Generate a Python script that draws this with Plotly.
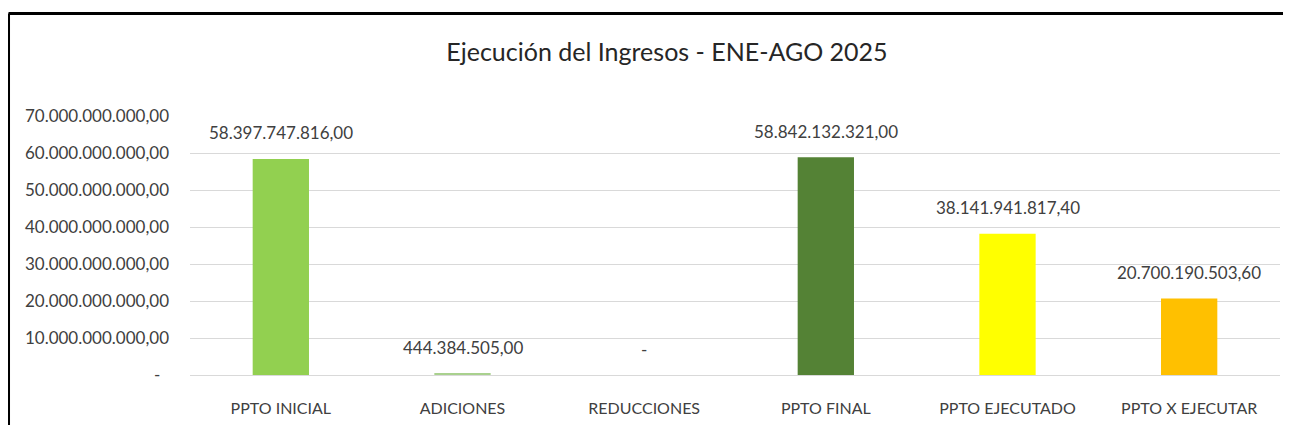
import plotly.graph_objects as go

categories = ["PPTO INICIAL", "ADICIONES", "REDUCCIONES", "PPTO FINAL", "PPTO EJECUTADO", "PPTO X EJECUTAR"]
values = [58397747816.00, 444384505.00, 0.0, 58842132321.00, 38141941817.40, 20700190503.60]
bar_colors = ["#92D050", "#A9D18E", "#A9D18E", "#548235", "#FFFF00", "#FFC000"]
tick_values = [0, 10e9, 20e9, 30e9, 40e9, 50e9, 60e9, 70e9]
tick_labels = ["-\u00a0\u00a0", "10.000.000.000,00", "20.000.000.000,00", "30.000.000.000,00",
               "40.000.000.000,00", "50.000.000.000,00", "60.000.000.000,00", "70.000.000.000,00"]
title_text = "Ejecución del Ingresos - ENE-AGO 2025"


def fmt_es(v):
    if v == 0:
        return "-"
    s = f"{v:,.2f}"
    return s.replace(",", "X").replace(".", ",").replace("X", ".")


FONT = "Lato, 'Open Sans', sans-serif"
TXT = "#404040"

W, H = 1275, 417  # page body has 8px margin on each side

fig = go.Figure()
fig.add_trace(go.Bar(
    x=categories, y=values,
    marker=dict(color=bar_colors, line=dict(width=0)),
    showlegend=False,
))

for c, v in zip(categories, values):
    fig.add_annotation(
        x=c, y=v, xref="x", yref="y", text=fmt_es(v), showarrow=False,
        yanchor="middle", yshift=26,
        font=dict(family=FONT, size=17, color=TXT),
    )

# chart-area border (left and top edges visible in reference)
fig.add_shape(type="line", xref="paper", yref="paper",
              x0=-0.1665, x1=-0.1665, y0=1.3958, y1=-0.3,
              line=dict(color="black", width=3))
fig.add_shape(type="line", xref="paper", yref="paper",
              x0=-0.1665, x1=1.05, y0=1.3958, y1=1.3958,
              line=dict(color="black", width=3))

fig.update_layout(
    width=W, height=H,
    margin=dict(l=182, r=3, t=108, b=50),
    paper_bgcolor="white", plot_bgcolor="white",
    bargap=0.69,
    title=dict(text=title_text, x=0.4376, xref="paper", xanchor="center",
               y=1 - 44 / H, yref="container", yanchor="middle",
               font=dict(family=FONT, size=25, color="#262626")),
    font=dict(family=FONT, color=TXT),
)
fig.update_yaxes(
    range=[0, 70e9], tickvals=tick_values, ticktext=tick_labels,
    showgrid=True, gridcolor="#D9D9D9", gridwidth=1,
    zeroline=False, showline=False, ticks="",
    ticklabelstandoff=20,
    tickfont=dict(family=FONT, size=17, color=TXT),
)
fig.update_xaxes(
    showline=True, linecolor="#D9D9D9", linewidth=1, ticks="",
    showgrid=False, ticklabelstandoff=19,
    tickfont=dict(family=FONT, size=16, color=TXT),
)

fig.write_html("out.html")
